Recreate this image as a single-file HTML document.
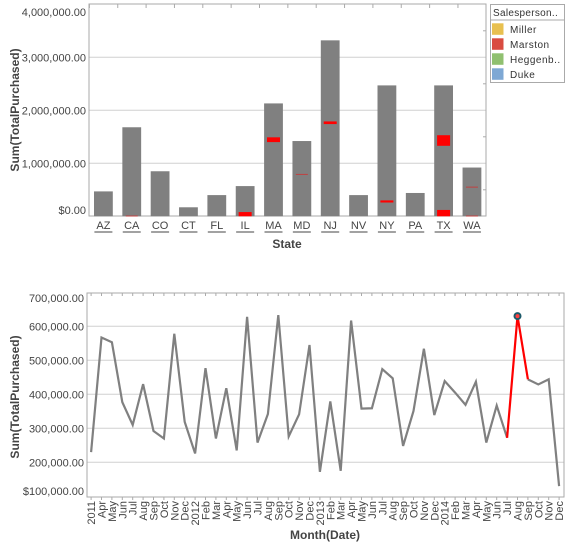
<!DOCTYPE html>
<html><head><meta charset="utf-8"><style>
body{margin:0;background:#fff;width:567px;height:543px;overflow:hidden}
svg{font-family:"Liberation Sans",sans-serif}
</style></head><body>
<svg width="567" height="543">
<g id="top"></g>
<g id="bot"></g>
</svg>
<script>
const states=["AZ","CA","CO","CT","FL","IL","MA","MD","NJ","NV","NY","PA","TX","WA"];
const totals=[0.47,1.68,0.85,0.17,0.40,0.57,2.13,1.42,3.32,0.40,2.47,0.44,2.47,0.92];
const redStates=["MA","NJ","NY","TX","TX","IL","CA","MD","WA","WA"];
const redLow=[1.40,1.74,0.26,1.33,0,0,0,0.79,0.55,0];
const redHigh=[1.49,1.79,0.30,1.53,0.12,0.08,0.015,0.80,0.56,0.015];
const topTicks=[0,1,2,3,4];
const topTickLabels=["$0.00","1,000,000.00","2,000,000.00","3,000,000.00","4,000,000.00"];
const legendNames=["Miller","Marston","Heggenb..","Duke"];
const legendColors=["#e8c050","#d94c40","#90c070","#7ea8d4"];

const months=["2011","Apr","May","Jun","Jul","Aug","Sep","Oct","Nov","Dec","2012","Feb","Mar","Apr","May","Jun","Jul","Aug","Sep","Oct","Nov","Dec","2013","Feb","Mar","Apr","May","Jun","Jul","Aug","Sep","Oct","Nov","Dec","2014","Feb","Mar","Apr","May","Jun","Jul","Aug","Sep","Oct","Nov","Dec"];
const monthly=[230,567,553,377,310,430,292,270,578,319,226,477,270,418,235,628,258,342,633,276,341,545,172,379,175,617,358,359,474,447,248,351,534,339,439,405,369,437,258,367,272,630,444,429,444,130];
const highlightIndex=41;
const botTicks=[100,200,300,400,500,600,700];
const botTickLabels=["$100,000.00","200,000.00","300,000.00","400,000.00","500,000.00","600,000.00","700,000.00"];

const NS="http://www.w3.org/2000/svg";
function mk(p,tag,a,txt){const e=document.createElementNS(NS,tag);for(const k in a)e.setAttribute(k,a[k]);if(txt!=null)e.textContent=txt;p.appendChild(e);return e;}

// top chart
const T=document.getElementById('top');
const tL=89,tR=486,tT=4,tB=216;
const ty=v=>216.3-v*53;
const tx=i=>103.4+i*28.35;
topTicks.forEach((v,i)=>{
  if(v>0&&v<4){const g=mk(T,'line',{x1:tL,x2:tR,y1:ty(v),y2:ty(v),stroke:'#d0d0d0'});
  }
  let ly=ty(v)+4; if(i===0) ly=214; if(i===topTicks.length-1) ly=16;
  const t=mk(T,'text',{x:86,y:ly,'text-anchor':'end','font-size':11,fill:'#444'},topTickLabels[i]);
  
});
const tb=mk(T,'rect',{x:tL,y:tT,width:tR-tL,height:tB-tT,fill:'none',stroke:'#aaa'});

for(let i=0;i<14;i++){mk(T,'line',{x1:tx(i)-14,x2:tx(i)-14,y1:tT,y2:tT+4,stroke:'#aaa'});}
for(let v=0.5;v<4;v+=1){mk(T,'line',{x1:tR-3,x2:tR,y1:ty(v),y2:ty(v),stroke:'#aaa'});}
states.forEach((s,i)=>{
  const b=mk(T,'rect',{x:tx(i)-9.4,y:ty(totals[i]),width:18.8,height:ty(0)-ty(totals[i]),fill:'#808080'});
  
  const l=mk(T,'text',{x:tx(i),y:229,'text-anchor':'middle','font-size':11,fill:'#444'},s);
  
  mk(T,'line',{x1:tx(i)-9,x2:tx(i)+9,y1:232,y2:232,stroke:'#444'});
});
redStates.forEach((s,i)=>{
  const k=states.indexOf(s);const thin=(redHigh[i]-redLow[i])<0.03;
  const r=mk(T,'rect',{x:tx(k)-(thin?6:6.5),y:ty(redHigh[i]),width:thin?12:13,height:Math.max(1,ty(redLow[i])-ty(redHigh[i])),fill:thin?'#c04040':'#ff0000'});
  
});
let e=mk(T,'text',{x:287,y:248,'text-anchor':'middle','font-size':12,'font-weight':'bold',fill:'#444'},'State');

e=mk(T,'text',{x:0,y:0,transform:'translate(19,110) rotate(-90)','text-anchor':'middle','font-size':12,'font-weight':'bold',fill:'#444'},'Sum(TotalPurchased)');

// legend
e=mk(T,'rect',{x:490.5,y:4.5,width:74,height:78,fill:'#fff',stroke:'#aaa'});

mk(T,'line',{x1:490.5,x2:564.5,y1:20,y2:20,stroke:'#aaa'});
e=mk(T,'text',{x:493,y:16,'font-size':10,fill:'#333','letter-spacing':'0.3'},'Salesperson..');

legendNames.forEach((n,i)=>{
  const y=23.3+i*15;
  const sw=mk(T,'rect',{x:492,y:y,width:11.5,height:11.5,fill:legendColors[i]});
  
  const t=mk(T,'text',{x:510,y:y+9.5,'font-size':10,fill:'#333','letter-spacing':'0.5'},n);
  
});

// bottom chart
const B=document.getElementById('bot');
const bL=87,bR=564,bT=293,bBot=497;
const by=v=>496.3-(v-100)*0.34;
const bx=i=>91.1+i*10.4;
botTicks.forEach((v,i)=>{
  if(v>100&&v<700){const g=mk(B,'line',{x1:bL,x2:bR,y1:by(v),y2:by(v),stroke:'#d0d0d0'});
  }
  let ly=by(v)+4; if(i===0) ly=495; if(i===botTicks.length-1) ly=302;
  const t=mk(B,'text',{x:84,y:ly,'text-anchor':'end','font-size':11,fill:'#444'},botTickLabels[i]);
  
});
e=mk(B,'rect',{x:bL,y:bT,width:bR-bL,height:bBot-bT,fill:'none',stroke:'#aaa'});

months.forEach((m,i)=>{
  mk(B,'line',{x1:bx(i),x2:bx(i),y1:bT,y2:bT+3,stroke:'#aaa'});
  mk(B,'line',{x1:bx(i),x2:bx(i),y1:bBot,y2:bBot+3,stroke:'#aaa'});
  const t=mk(B,'text',{x:0,y:0,transform:`translate(${bx(i)+4},501) rotate(-90)`,'text-anchor':'end','font-size':11,fill:'#444'},m);
  
});
let pts=monthly.map((v,i)=>bx(i)+','+by(v));
e=mk(B,'polyline',{points:pts.slice(0,highlightIndex).join(' '),fill:'none',stroke:'#808080','stroke-width':2.2});

e=mk(B,'polyline',{points:pts.slice(highlightIndex+1).join(' '),fill:'none',stroke:'#808080','stroke-width':2.2});

e=mk(B,'polyline',{points:pts.slice(highlightIndex-1,highlightIndex+2).join(' '),fill:'none',stroke:'#ff0000','stroke-width':2.2});

e=mk(B,'circle',{cx:bx(highlightIndex),cy:by(monthly[highlightIndex]),r:3,fill:'#ff4040',stroke:'#1d5a6a','stroke-width':2});

e=mk(B,'text',{x:325,y:539,'text-anchor':'middle','font-size':12,'font-weight':'bold',fill:'#444'},'Month(Date)');

e=mk(B,'text',{x:0,y:0,transform:'translate(19,397) rotate(-90)','text-anchor':'middle','font-size':12,'font-weight':'bold',fill:'#444'},'Sum(TotalPurchased)');

</script>
</body></html>
